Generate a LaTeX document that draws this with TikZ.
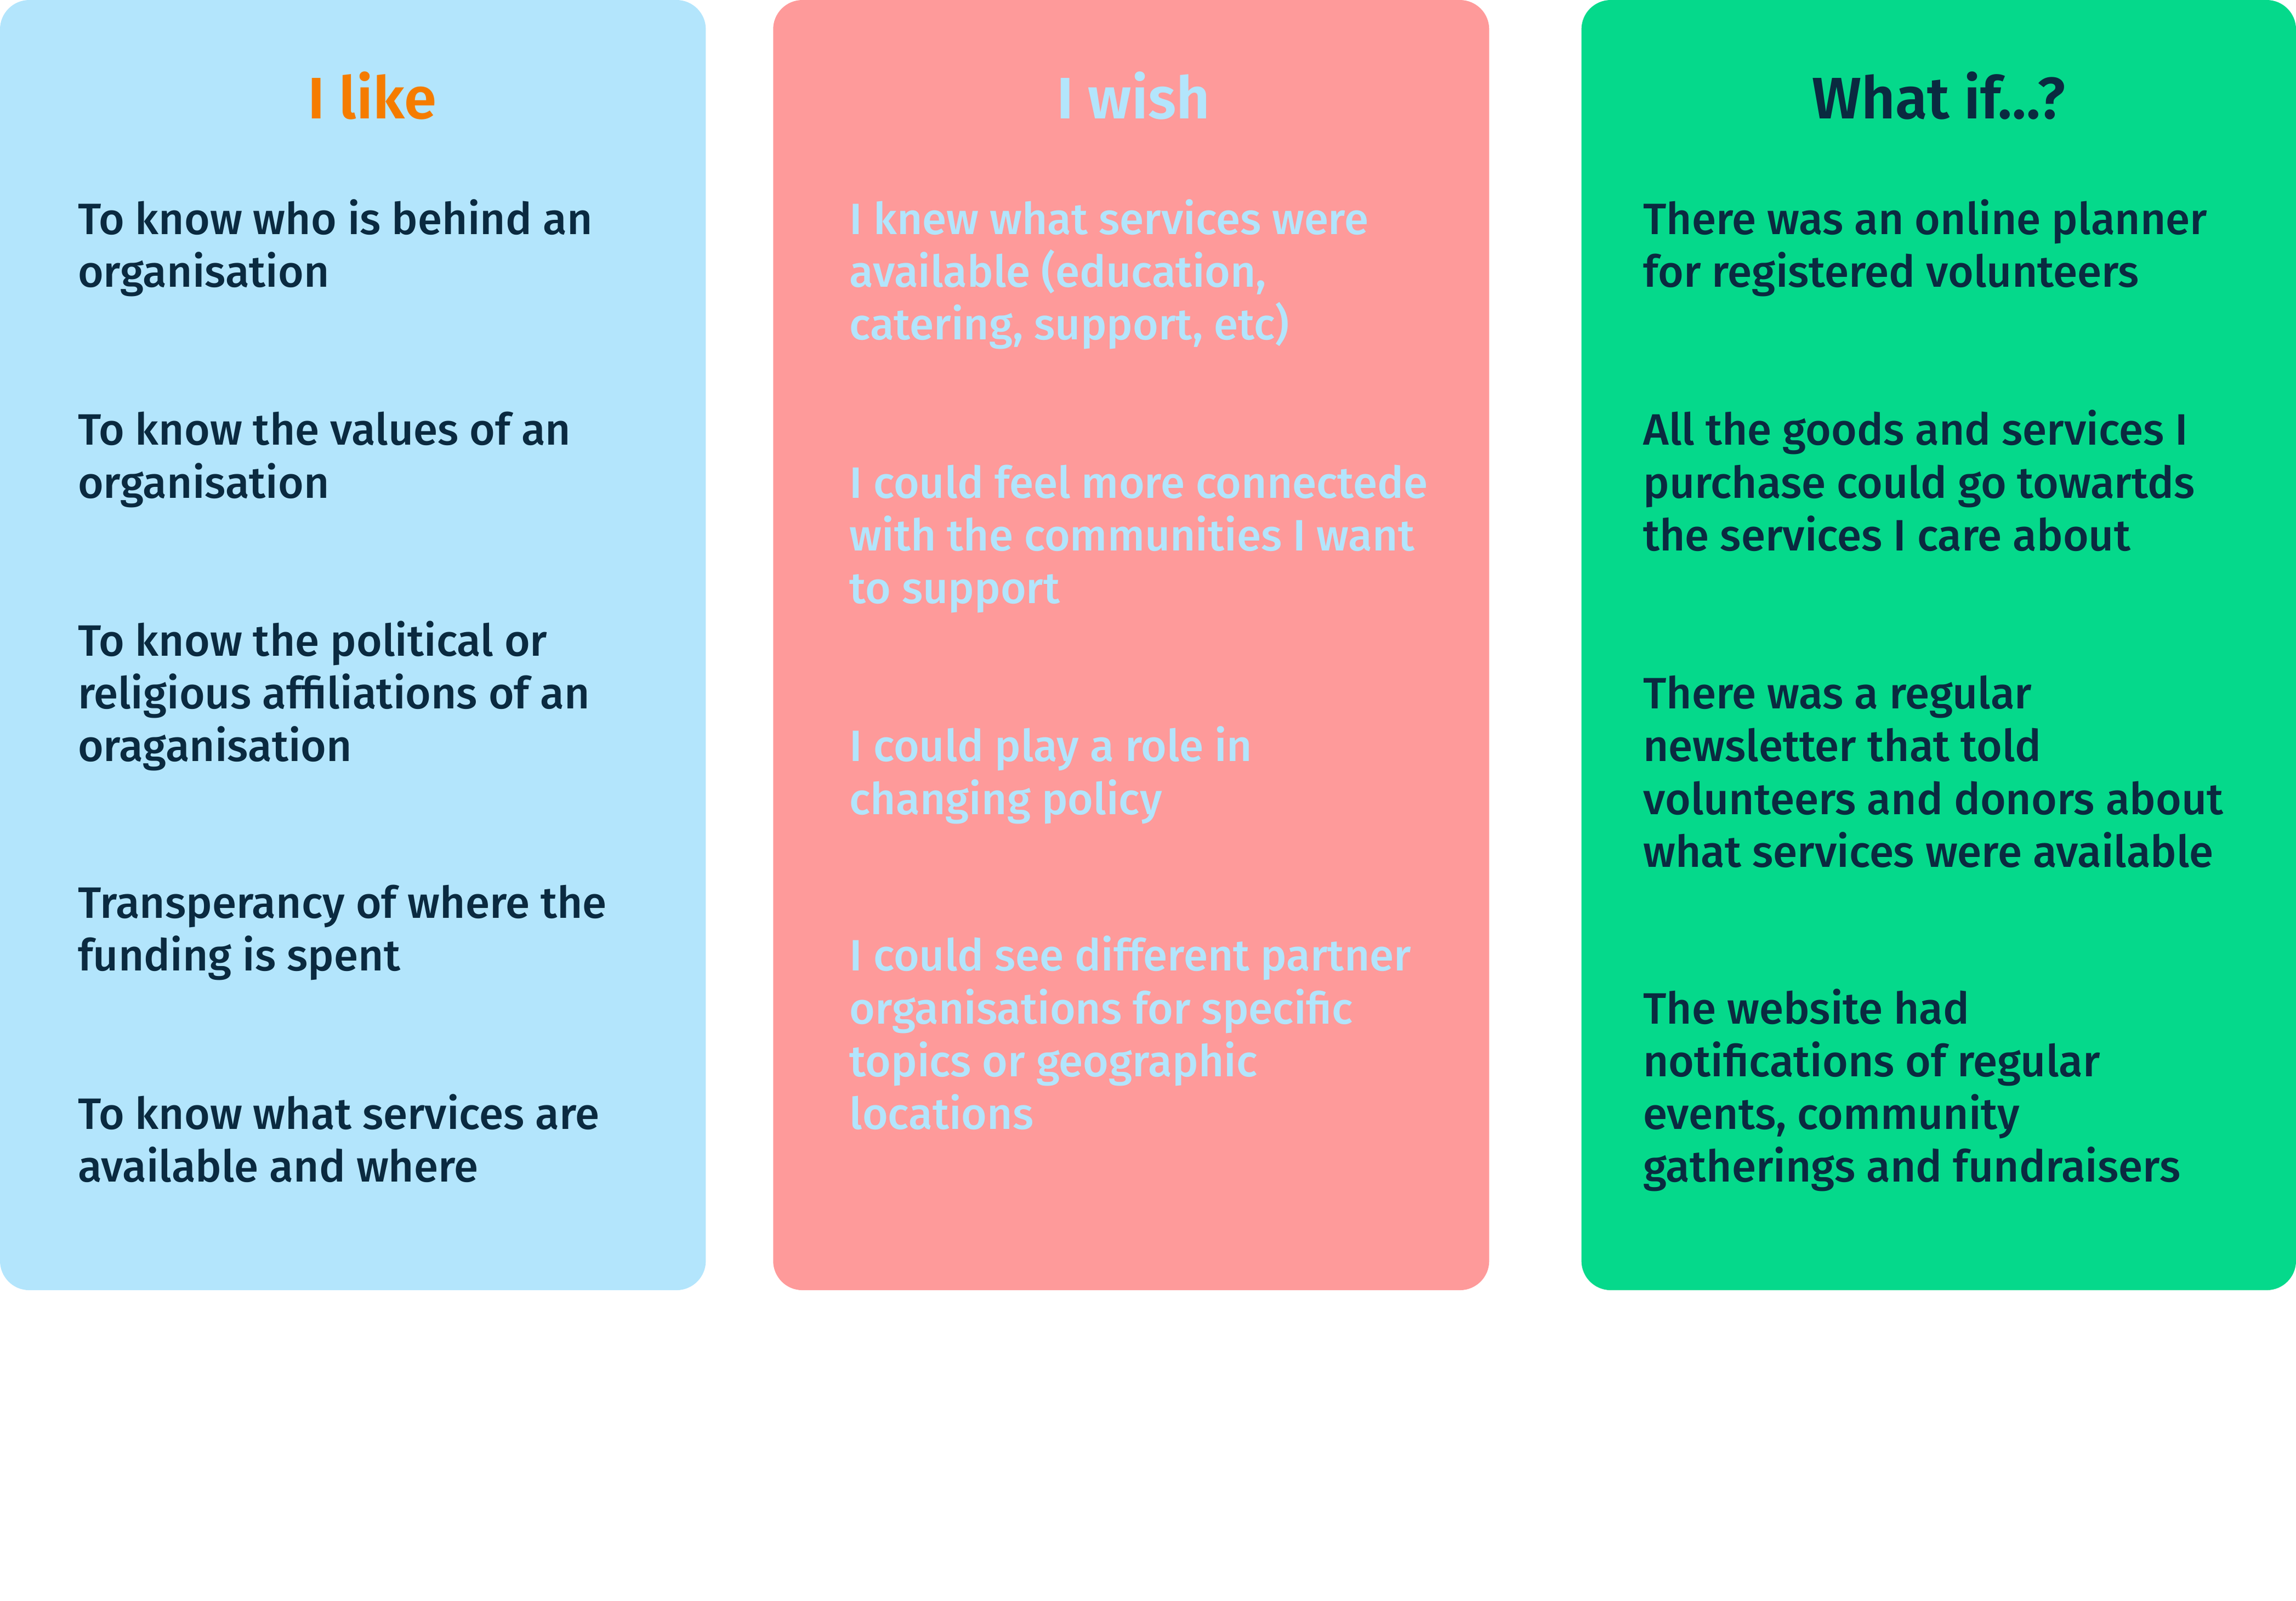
\documentclass[tikz,border=0pt]{standalone}
\usepackage{fontspec}
\setmainfont{Fira Sans}[UprightFont=* Medium, BoldFont=* SemiBold]
\usepackage{xcolor}
\usetikzlibrary{positioning}
\definecolor{likeblue}{HTML}{B3E5FC}
\definecolor{wishpink}{HTML}{FE9A9A}
\definecolor{whatgreen}{HTML}{05D98B}
\definecolor{navy}{HTML}{0A2A40}
\definecolor{likeorange}{HTML}{F57C00}

\begin{document}
\begin{tikzpicture}[x=1pt, y=-1pt,
    panel/.style={rounded corners=20pt},
    heading/.style={anchor=base, inner sep=0pt, font=\fontsize{40}{48}\selectfont\bfseries},
    item/.style={anchor=base west, inner sep=0pt, align=left, font=\fontsize{30}{36}\selectfont}]
  \useasboundingbox (0,0) rectangle (1568,1093);

  % I like panel
  \fill[likeblue, panel] (0,0) rectangle (482,881);
  \node[heading, likeorange] (liketitle) at (254,81) {I like};
  \node[item, navy] (like1) at (53,196) {To know who is behind an\\organisation};
  \node[item, navy] (like2) at (53,340) {To know the values of an\\organisation};
  \node[item, navy] (like3) at (53,520) {To know the political or\\religious affiliations of an\\oraganisation};
  \node[item, navy] (like4) at (53,663) {Transperancy of where the\\funding is spent};
  \node[item, navy] (like5) at (53,807) {To know what services are\\available and where};

  % I wish panel
  \fill[wishpink, panel] (528,0) rectangle (1017,881);
  \node[heading, likeblue] (wishtitle) at (774,81) {I wish};
  \node[item, likeblue] (wish1) at (580,232) {I knew what services were\\available (education,\\catering, support, etc)};
  \node[item, likeblue] (wish2) at (580,412) {I could feel more connectede\\with the communities I want\\to support};
  \node[item, likeblue] (wish3) at (580,556) {I could play a role in\\changing policy};
  \node[item, likeblue] (wish4) at (580,771) {I could see different partner\\organisations for specific\\topics or geographic\\locations};

  % What if panel
  \fill[whatgreen, panel] (1080,0) rectangle (1568,881);
  \node[heading, navy] (whattitle) at (1324,81) {What if...?};
  \node[item, navy] (what1) at (1122,196) {There was an online planner\\for registered volunteers};
  \node[item, navy] (what2) at (1122,376) {All the goods and services I\\purchase could go towartds\\the services I care about};
  \node[item, navy] (what3) at (1122,592) {There was a regular\\newsletter that told\\volunteers and donors about\\what services were available};
  \node[item, navy] (what4) at (1122,807) {The website had\\notifications of regular\\events, community\\gatherings and fundraisers};
\end{tikzpicture}
\end{document}
